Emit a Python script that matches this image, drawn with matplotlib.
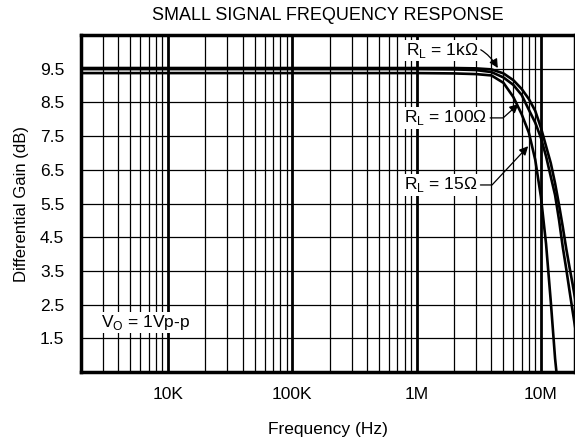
import matplotlib
matplotlib.use("Agg")
import matplotlib.pyplot as plt
from matplotlib.ticker import FixedLocator, LogLocator, NullFormatter

plt.rcParams["font.family"] = ["Liberation Sans", "DejaVu Sans"]

# gain curves (Hz, dB)
freq_1k = [2e3, 1e6, 2e6, 3e6, 4e6, 5e6, 6e6, 7e6, 8e6, 9e6, 10e6, 11e6,
           12e6, 13e6, 14e6, 15e6, 16e6, 17e6, 18e6, 19e6]
gain_1k = [9.52, 9.52, 9.52, 9.51, 9.48, 9.36, 9.16, 8.9, 8.6, 8.25, 7.75,
           7.2, 6.7, 6.1, 5.45, 4.8, 4.15, 3.6, 3.1, 2.6]

freq_100 = [2e3, 1e6, 2e6, 3e6, 4e6, 5e6, 6e6, 7e6, 8e6, 9e6, 10e6, 11e6,
            12e6, 13e6, 14e6, 15e6, 16e6, 17e6, 18e6, 19e6]
gain_100 = [9.49, 9.49, 9.48, 9.46, 9.4, 9.24, 9.02, 8.72, 8.28, 7.9, 7.45,
            6.9, 6.3, 5.75, 5.0, 4.2, 3.55, 2.9, 2.3, 1.75]

freq_15 = [2e3, 1e6, 2e6, 3e6, 4e6, 5e6, 6e6, 7e6, 8e6, 9e6, 10e6, 11e6,
           12e6, 13e6, 13.5e6]
gain_15 = [9.37, 9.37, 9.36, 9.34, 9.3, 9.08, 8.66, 8.15, 7.6, 6.8, 5.7,
           4.3, 2.6, 0.9, 0.3]

y_ticks = [1.5, 2.5, 3.5, 4.5, 5.5, 6.5, 7.5, 8.5, 9.5]
x_ticks = [1e4, 1e5, 1e6, 1e7]
x_labels = ["10K", "100K", "1M", "10M"]


def main():
    fig = plt.figure(figsize=(5.75, 4.47), dpi=100)
    ax = fig.add_axes([81 / 575, 75 / 447, 494 / 575, 337 / 447])

    for f, g in [(freq_1k, gain_1k), (freq_100, gain_100), (freq_15, gain_15)]:
        ax.plot(f, g, color="black", lw=1.9, solid_capstyle="butt", zorder=3)

    ax.set_xscale("log")
    ax.set_xlim(2e3, 1.88e7)
    ax.set_ylim(0.5, 10.5)
    ax.xaxis.set_major_locator(FixedLocator(x_ticks))
    ax.set_xticklabels(x_labels)
    ax.xaxis.set_minor_locator(LogLocator(base=10, subs=range(2, 10)))
    ax.xaxis.set_minor_formatter(NullFormatter())
    ax.set_yticks(y_ticks)
    ax.set_yticklabels([f"{v:.1f}" for v in y_ticks])

    ax.grid(axis="x", which="major", color="black", lw=2.0, zorder=1)
    ax.grid(axis="x", which="minor", color="black", lw=0.9, zorder=1)
    ax.grid(axis="y", which="major", color="black", lw=0.9, zorder=1)
    ax.set_axisbelow(True)
    ax.tick_params(which="both", length=0, labelsize=12.5)
    ax.tick_params(axis="y", pad=12)
    ax.tick_params(axis="x", pad=11)
    for s in ax.spines.values():
        s.set_linewidth(2.5)

    ax.set_xlabel("Frequency (Hz)", fontsize=12.5, labelpad=14)
    ax.set_ylabel("Differential Gain (dB)", fontsize=12, labelpad=8)
    ax.set_title("SMALL SIGNAL FREQUENCY RESPONSE", fontsize=13, pad=11)

    box = dict(facecolor="white", edgecolor="none", pad=1.0)
    arrow = dict(arrowstyle="-|>", color="black", lw=0.9, mutation_scale=13,
                 shrinkA=1, shrinkB=0)

    ax.annotate("R$_\\mathregular{L}$ = 1kΩ", xy=(4.5e6, 9.52),
                xytext=(1.6e6, 10.04), ha="center", va="center", fontsize=12.5,
                bbox=box, zorder=5,
                arrowprops=dict(arrow, connectionstyle="arc3,rad=-0.45"))
    ax.annotate("R$_\\mathregular{L}$ = 100Ω", xy=(6.6e6, 8.45),
                xytext=(1.72e6, 8.04), ha="center", va="center", fontsize=12.5,
                bbox=box, zorder=5,
                arrowprops=dict(arrow,
                                connectionstyle="angle,angleA=0,angleB=42,rad=0"))
    ax.annotate("R$_\\mathregular{L}$ = 15Ω", xy=(7.9e6, 7.2),
                xytext=(1.57e6, 6.05), ha="center", va="center", fontsize=12.5,
                bbox=box, zorder=5,
                arrowprops=dict(arrow,
                                connectionstyle="angle,angleA=0,angleB=47,rad=0"))

    ax.text(2.9e3, 1.97, "V$_\\mathregular{O}$ = 1Vp-p", ha="left", va="center",
            fontsize=12.5, bbox=box, zorder=5)

    fig.savefig("out.png", dpi=100)


if __name__ == "__main__":
    main()
